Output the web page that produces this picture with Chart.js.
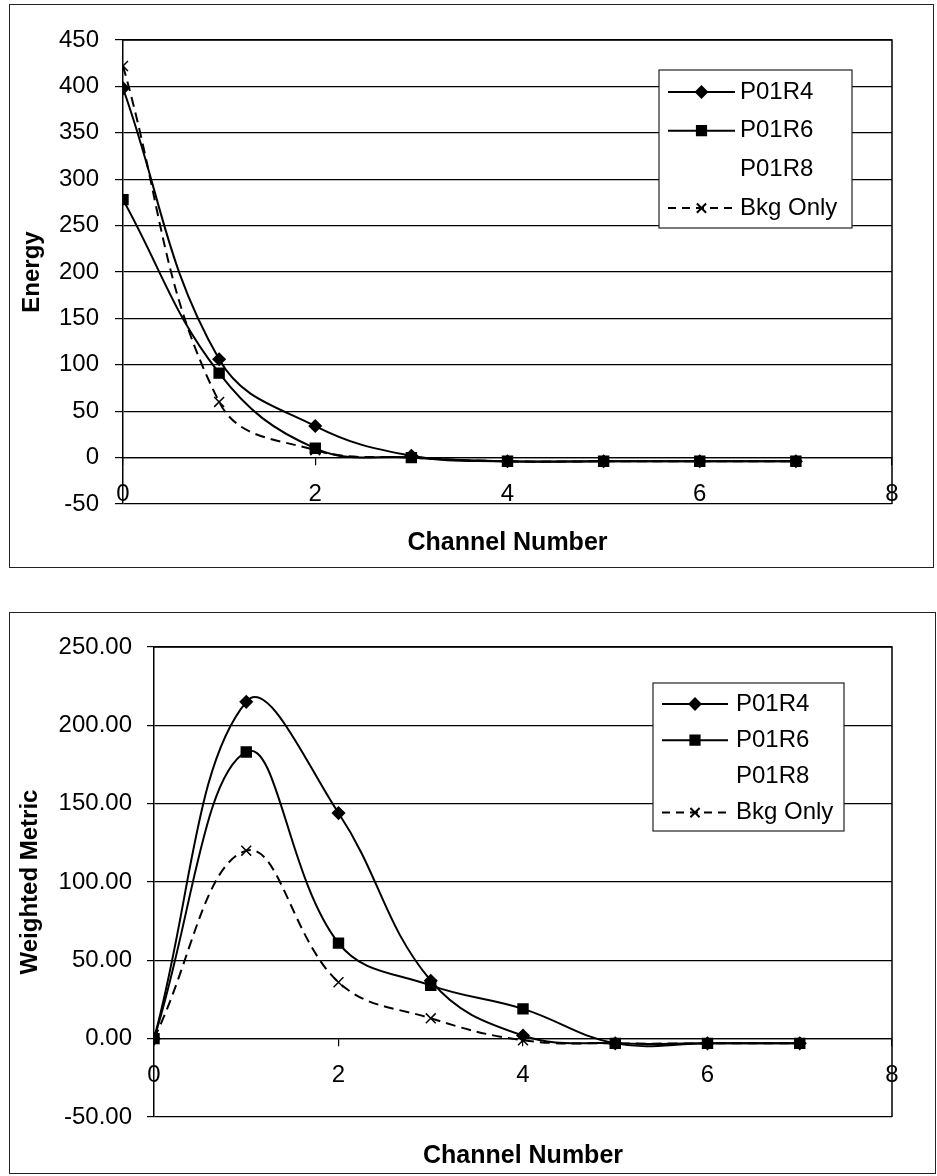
<!DOCTYPE html>
<html><head><meta charset="utf-8">
<script src="https://cdn.jsdelivr.net/npm/chart.js@4/dist/chart.umd.min.js"></script>
<style>
html,body{margin:0;padding:0;background:#fff;}
body{width:937px;height:1176px;position:relative;overflow:hidden;}
.frame{position:absolute;border:1.5px solid #222;box-sizing:border-box;}
.wrap{position:absolute;left:0;}
</style></head><body>
<div class="frame" style="left:9px;top:4px;width:925px;height:564px;"></div>
<div class="frame" style="left:9px;top:612px;width:927px;height:562px;"></div>
<div class="wrap" style="top:0;width:937px;height:572px"><canvas id="c1" width="937" height="572"></canvas></div>
<div class="wrap" style="top:600px;width:937px;height:576px"><canvas id="c2" width="937" height="576"></canvas></div>
<script>
// ---- data ----
const channels = [0, 1, 2, 3, 4, 5, 6, 7];
const seriesNames = ['P01R4', 'P01R6', 'P01R8', 'Bkg Only'];

const energyP01R4 = [398, 106, 34, 2, -4, -4, -4, -4];
const energyP01R6 = [278, 91, 10, 0, -4, -4, -4, -4];
const energyP01R8 = [];
const energyBkg   = [422, 60, 8, 0, -4, -4, -4, -4];

const weightedP01R4 = [0, 215, 144, 37, 2, -3, -3, -3];
const weightedP01R6 = [0, 183, 61, 34, 19, -3, -3, -3];
const weightedP01R8 = [];
const weightedBkg   = [0, 120, 36, 13, -1, -3, -3, -3];

const xTicks = [0, 2, 4, 6, 8];
const energyTicks = [-50, 0, 50, 100, 150, 200, 250, 300, 350, 400, 450];
const weightedTicks = [-50, 0, 50, 100, 150, 200, 250];

// ---- styling ----
const FONT = 'Liberation Sans, Arial, Helvetica, sans-serif';
Chart.defaults.font.family = FONT;
Chart.defaults.color = '#000';

const seriesStyles = [
  {borderColor: '#000', pointStyle: 'rectRot', pointRadius: 6, borderDash: [], order: 1},
  {borderColor: '#000', pointStyle: 'rect', pointRadius: 7, borderDash: [], order: 2},
  {borderColor: 'rgba(0,0,0,0)', pointStyle: false, pointRadius: 0, borderDash: [], order: 3},
  {borderColor: '#000', pointStyle: 'crossRot', pointRadius: 7, borderDash: [10, 6], order: 0}
];

function toPoints(vals) { return vals.map((v, i) => ({x: channels[i], y: v})); }

function makeDatasets(seriesVals) {
  return seriesVals.map((vals, i) => {
    const s = seriesStyles[i];
    return {
      label: seriesNames[i],
      data: toPoints(vals),
      order: s.order,
      borderColor: s.borderColor,
      backgroundColor: s.borderColor,
      borderDash: s.borderDash,
      borderWidth: 2,
      tension: 0.4,
      pointStyle: s.pointStyle,
      pointRadius: s.pointRadius,
      pointBackgroundColor: '#000',
      pointBorderColor: '#000',
      pointBorderWidth: 1.5,
      fill: false
    };
  });
}

const plotFrame = {
  id: 'plotFrame',
  beforeDatasetsDraw(chart) {
    const a = chart.chartArea, ctx = chart.ctx;
    ctx.save();
    ctx.strokeStyle = '#000';
    ctx.lineWidth = 1.5;
    ctx.beginPath();
    ctx.moveTo(a.left, a.top); ctx.lineTo(a.right, a.top); ctx.lineTo(a.right, a.bottom);
    ctx.stroke();
    ctx.restore();
  }
};

const boxLegend = {
  id: 'boxLegend',
  afterDatasetsDraw(chart, args, o) {
    if (!o || !o.width) return;
    const ctx = chart.ctx;
    ctx.save();
    ctx.fillStyle = '#fff';
    ctx.fillRect(o.left, o.top, o.width, o.height);
    ctx.strokeStyle = '#222';
    ctx.lineWidth = 1.2;
    ctx.strokeRect(o.left, o.top, o.width, o.height);
    chart.data.datasets.forEach((ds, i) => {
      const y = o.firstRow + i * o.rowGap;
      if (ds.pointStyle) {
        ctx.save();
        ctx.strokeStyle = ds.borderColor;
        ctx.lineWidth = 2;
        ctx.setLineDash(ds.borderDash && ds.borderDash.length ? [8, 6] : []);
        ctx.beginPath();
        ctx.moveTo(o.lineX1, y); ctx.lineTo(o.lineX2, y);
        ctx.stroke();
        ctx.setLineDash([]);
        ctx.fillStyle = '#000';
        ctx.strokeStyle = '#000';
        Chart.helpers.drawPoint(ctx, {pointStyle: ds.pointStyle, radius: ds.pointRadius - 0.5, borderWidth: 1.3, rotation: 0},
          (o.lineX1 + o.lineX2) / 2, y);
        ctx.restore();
      }
      ctx.fillStyle = '#000';
      ctx.font = o.fontSize + 'px ' + FONT;
      ctx.textBaseline = 'middle';
      ctx.textAlign = 'left';
      ctx.fillText(ds.label, o.textX, y);
    });
    ctx.restore();
  }
};

function makeChart(id, cfg) {
  return new Chart(document.getElementById(id), {
    type: 'line',
    data: {datasets: makeDatasets(cfg.series)},
    plugins: [plotFrame, boxLegend],
    options: {
      responsive: false,
      animation: false,
      devicePixelRatio: 1,
      layout: {padding: cfg.padding},
      plugins: {
        legend: {display: false},
        tooltip: {enabled: false},
        title: {
          display: true, text: 'Channel Number', position: 'bottom', fullSize: false,
          color: '#000', font: {size: 25, weight: 'bold'}, padding: cfg.titlePad
        },
        boxLegend: cfg.legend
      },
      scales: {
        x: {
          type: 'linear', min: 0, max: 8, position: {y: 0},
          afterBuildTicks(s) { s.ticks = xTicks.map(v => ({value: v})); },
          ticks: {color: '#000', font: {size: 24}, padding: 15, maxRotation: 0},
          grid: {display: true, drawOnChartArea: false, drawTicks: true, tickLength: 7, color: '#000', lineWidth: 1.2},
          border: {display: true, color: '#000', width: 1.2}
        },
        y: {
          type: 'linear', min: cfg.yTicks[0], max: cfg.yTicks[cfg.yTicks.length - 1],
          afterBuildTicks(s) { s.ticks = cfg.yTicks.map(v => ({value: v})); },
          ticks: {color: '#000', font: {size: 24}, padding: cfg.yPad, callback: cfg.fmt},
          grid: {color: '#000', lineWidth: 1.2, drawTicks: true, tickLength: cfg.tick},
          border: {display: true, color: '#000', width: 1.5},
          title: {display: true, text: cfg.yTitle, color: '#000', font: {size: 24, weight: 'bold'}, padding: {top: cfg.yTitlePad}},
          afterFit(s) { s.width = cfg.yWidth; }
        }
      }
    }
  });
}

makeChart('c1', {
  series: [energyP01R4, energyP01R6, energyP01R8, energyBkg],
  yTicks: energyTicks,
  fmt: v => String(v),
  yTitle: 'Energy',
  yWidth: 123, tick: 8, yPad: 16, yTitlePad: 18,
  padding: {top: 40, right: 45, left: 0, bottom: 0},
  titlePad: {top: 24, bottom: 14},
  legend: {left: 659, top: 70, width: 193, height: 158, firstRow: 92, rowGap: 38.7,
           lineX1: 668, lineX2: 735, textX: 740, fontSize: 24}
});

makeChart('c2', {
  series: [weightedP01R4, weightedP01R6, weightedP01R8, weightedBkg],
  yTicks: weightedTicks,
  fmt: v => Number(v).toFixed(2),
  yTitle: 'Weighted Metric',
  yWidth: 154, tick: 7, yPad: 15, yTitlePad: 16,
  padding: {top: 47, right: 45, left: 0, bottom: 0},
  titlePad: {top: 24, bottom: 5},
  legend: {left: 653, top: 83, width: 191, height: 148, firstRow: 104, rowGap: 36.2,
           lineX1: 662, lineX2: 728, textX: 736, fontSize: 24}
});
</script>
</body></html>
